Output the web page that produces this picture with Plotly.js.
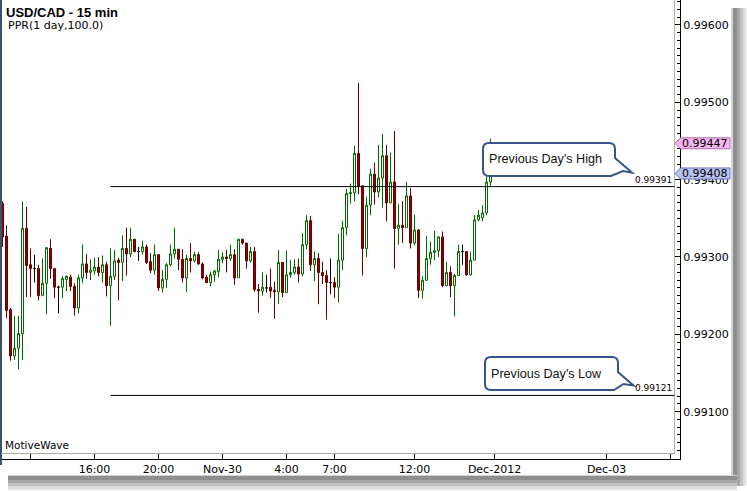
<!DOCTYPE html>
<html><head><meta charset="utf-8">
<script src="https://cdn.plot.ly/plotly-3.0.1.min.js"></script>
<style>html,body{margin:0;padding:0;background:#fff;overflow:hidden}#chart{width:747px;height:491px}</style>
</head><body><div id="chart"></div>
<script>
// ---- data: USD/CAD 15-min bars (index 0 = Nov-29 13:15) ----
const opens = [0.99369,0.99327,0.99232,0.99172,0.99182,0.99201,0.99337,0.99290,0.99285,0.99285,
0.99250,0.99266,0.99311,0.99285,0.99261,0.99261,0.99271,0.99274,0.99262,0.99234,
0.99273,0.99291,0.99280,0.99282,0.99287,0.99280,0.99290,0.99263,0.99275,0.99296,
0.99293,0.99311,0.99304,0.99323,0.99307,0.99307,0.99313,0.99294,0.99283,0.99303,
0.99260,0.99271,0.99290,0.99304,0.99310,0.99297,0.99273,0.99298,0.99295,0.99303,
0.99291,0.99274,0.99267,0.99277,0.99281,0.99297,0.99300,0.99298,0.99303,0.99273,
0.99323,0.99318,0.99295,0.99307,0.99258,0.99256,0.99260,0.99261,0.99257,0.99255,
0.99293,0.99254,0.99277,0.99280,0.99287,0.99278,0.99316,0.99347,0.99290,0.99298,
0.99280,0.99276,0.99267,0.99267,0.99261,0.99296,0.99338,0.99382,0.99383,0.99434,
0.99392,0.99311,0.99367,0.99407,0.99384,0.99402,0.99431,0.99370,0.99397,0.99337,
0.99341,0.99338,0.99379,0.99318,0.99335,0.99257,0.99270,0.99298,0.99306,0.99308,
0.99326,0.99263,0.99280,0.99263,0.99276,0.99307,0.99307,0.99277,0.99296,0.99348,
0.99351,0.99357,0.99397];
const highs = [0.99372,0.99341,0.99234,0.99224,0.99224,0.99372,0.99365,0.99311,0.99303,0.99290,
0.99298,0.99313,0.99323,0.99285,0.99263,0.99275,0.99276,0.99277,0.99266,0.99277,
0.99316,0.99304,0.99297,0.99299,0.99300,0.99302,0.99294,0.99311,0.99309,0.99299,
0.99328,0.99338,0.99338,0.99323,0.99313,0.99321,0.99316,0.99305,0.99316,0.99303,
0.99283,0.99292,0.99316,0.99338,0.99310,0.99310,0.99303,0.99318,0.99307,0.99306,
0.99293,0.99277,0.99281,0.99283,0.99309,0.99306,0.99309,0.99316,0.99310,0.99323,
0.99323,0.99318,0.99313,0.99313,0.99265,0.99280,0.99277,0.99285,0.99268,0.99309,
0.99293,0.99308,0.99296,0.99297,0.99298,0.99331,0.99354,0.99353,0.99307,0.99305,
0.99294,0.99283,0.99298,0.99274,0.99330,0.99347,0.99388,0.99395,0.99444,0.99525,
0.99392,0.99378,0.99414,0.99422,0.99445,0.99459,0.99445,0.99435,0.99463,0.99368,
0.99372,0.99397,0.99389,0.99355,0.99336,0.99275,0.99327,0.99320,0.99334,0.99326,
0.99333,0.99294,0.99288,0.99278,0.99316,0.99316,0.99307,0.99307,0.99354,0.99361,
0.99367,0.99404,0.99453];
const lows = [0.99313,0.99221,0.99166,0.99167,0.99155,0.99167,0.99248,0.99248,0.99267,0.99244,
0.99250,0.99226,0.99272,0.99247,0.99227,0.99247,0.99256,0.99256,0.99224,0.99227,
0.99266,0.99272,0.99270,0.99277,0.99275,0.99267,0.99249,0.99211,0.99270,0.99244,
0.99269,0.99276,0.99300,0.99306,0.99295,0.99303,0.99291,0.99279,0.99277,0.99256,
0.99254,0.99260,0.99288,0.99298,0.99283,0.99267,0.99255,0.99280,0.99293,0.99290,
0.99271,0.99266,0.99262,0.99268,0.99274,0.99292,0.99280,0.99295,0.99264,0.99273,
0.99316,0.99285,0.99293,0.99255,0.99228,0.99250,0.99254,0.99247,0.99220,0.99239,
0.99248,0.99254,0.99273,0.99277,0.99267,0.99275,0.99310,0.99282,0.99269,0.99239,
0.99265,0.99219,0.99252,0.99247,0.99241,0.99283,0.99328,0.99369,0.99372,0.99381,
0.99276,0.99300,0.99354,0.99368,0.99377,0.99364,0.99346,0.99370,0.99285,0.99316,
0.99318,0.99338,0.99311,0.99315,0.99247,0.99246,0.99269,0.99290,0.99296,0.99300,
0.99261,0.99262,0.99248,0.99223,0.99276,0.99290,0.99276,0.99276,0.99296,0.99346,
0.99346,0.99354,0.99391];
const closes = [0.99326,0.99231,0.99172,0.99182,0.99201,0.99337,0.99289,0.99285,0.99285,0.99250,
0.99266,0.99312,0.99285,0.99261,0.99261,0.99272,0.99275,0.99262,0.99234,0.99273,
0.99291,0.99280,0.99283,0.99287,0.99280,0.99290,0.99263,0.99275,0.99295,0.99293,
0.99311,0.99304,0.99323,0.99307,0.99307,0.99313,0.99293,0.99283,0.99303,0.99260,
0.99271,0.99290,0.99304,0.99310,0.99297,0.99273,0.99298,0.99295,0.99303,0.99291,
0.99273,0.99267,0.99277,0.99282,0.99297,0.99300,0.99298,0.99303,0.99273,0.99323,
0.99318,0.99295,0.99307,0.99258,0.99256,0.99261,0.99260,0.99256,0.99255,0.99293,
0.99254,0.99277,0.99280,0.99287,0.99278,0.99316,0.99347,0.99290,0.99298,0.99280,
0.99276,0.99267,0.99267,0.99261,0.99296,0.99338,0.99382,0.99383,0.99434,0.99392,
0.99311,0.99367,0.99407,0.99384,0.99402,0.99431,0.99370,0.99397,0.99337,0.99341,
0.99338,0.99379,0.99318,0.99335,0.99257,0.99270,0.99298,0.99306,0.99308,0.99326,
0.99263,0.99280,0.99263,0.99276,0.99307,0.99307,0.99277,0.99296,0.99348,0.99354,
0.99357,0.99397,0.99408];
const tickIndex  = [7, 23, 39, 55, 71, 83, 103, 123, 151, 167];
const tickLabels = ['', '16:00', '20:00', 'Nov-30', '4:00', '7:00', '12:00', 'Dec-2012', 'Dec-03', ''];
const prevDayHigh = 0.99391;
const prevDayLow  = 0.99121;
const prevLineStart = 27;          // bar index where the PPR lines start
const askPrice = 0.99447;
const bidPrice = 0.99408;

// ---- geometry helpers (plot area pixels) ----
const ML = 1, MR = 67, MT = 0, MB = 32, WIDTH = 747, HEIGHT = 491;
const PW = WIDTH - ML - MR, PH = HEIGHT - MT - MB;
const yTop = 0.996323, yBot = 0.990388;
const xMin = -0.375, xMax = 169.375;
const X = px => (px - ML) / PW;
const Y = py => (MT + PH - py) / PH;
const pyOf = p => MT + (yTop - p) / (yTop - yBot) * PH;
const P = (px, py) => X(px).toFixed(5) + ',' + Y(py).toFixed(5);

// ---- traces ----
const idx = opens.map((_, i) => i);
function pick(f) {
  const s = idx.filter(f);
  return { x: s, open: s.map(i => opens[i]), high: s.map(i => highs[i]),
           low: s.map(i => lows[i]), close: s.map(i => closes[i]) };
}
const GREEN = '#006800', RED_LINE = '#640000', RED_FILL = '#980000';
function candle(d, incLine, incFill, decLine, decFill) {
  return Object.assign({ type: 'candlestick', whiskerwidth: 0, hoverinfo: 'skip', showlegend: false,
    increasing: { line: { color: incLine, width: 1 }, fillcolor: incFill },
    decreasing: { line: { color: decLine, width: 1 }, fillcolor: decFill } }, d);
}
const traces = [
  candle(pick(i => closes[i] > opens[i]), GREEN, '#ffffff', GREEN, '#ffffff'),
  candle(pick(i => closes[i] < opens[i]), RED_LINE, RED_FILL, RED_LINE, RED_FILL),
  candle(pick(i => closes[i] === opens[i]), '#000000', '#000000', '#000000', '#000000')
];

// ---- decorations ----
function callout(l, t, r, b, rad, ty, tip, back, bx) {
  return 'M' + P(l + rad, t) + ' L' + P(r - rad, t) + ' Q' + P(r, t) + ' ' + P(r, t + rad) +
    ' L' + P(r, ty) + ' L' + P(tip[0], tip[1]) + ' L' + P(back[0], back[1]) + ' L' + P(bx, b) +
    ' L' + P(l + rad, b) + ' Q' + P(l, b) + ' ' + P(l, b - rad) + ' L' + P(l, t + rad) +
    ' Q' + P(l, t) + ' ' + P(l + rad, t) + ' Z';
}
function tag(py) {
  return 'M' + P(675, py) + ' L' + P(680.5, py - 5.5) + ' L' + P(730, py - 5.5) + ' L' + P(730, py + 5.5) +
    ' L' + P(680.5, py + 5.5) + ' Z';
}
const shapes = [];
// shadow (right and bottom)
[[731, 733, '#d4d4d4'], [733, 737, '#8e8e8e'], [737, 740, '#a6a6a6'], [740, 743, '#c2c2c2'], [743, 745, '#dadada'], [745, 748, '#eeeeee']]
  .forEach(b => shapes.push({ type: 'rect', xref: 'paper', yref: 'paper', x0: X(b[0]), x1: X(b[1]), y0: Y(8), y1: Y(486), fillcolor: b[2], line: { width: 0 }, layer: 'above' }));
[[475, 476, '#d0d0d0'], [476, 480, '#8e8e8e'], [480, 483, '#a6a6a6'], [483, 486, '#c2c2c2'], [486, 489, '#dadada'], [489, 492, '#eeeeee']]
  .forEach(b => shapes.push({ type: 'rect', xref: 'paper', yref: 'paper', x0: X(8), x1: X(737), y0: Y(b[0]), y1: Y(b[1]), fillcolor: b[2], line: { width: 0 }, layer: 'above' }));
// left window border
shapes.push({ type: 'rect', xref: 'paper', yref: 'paper', x0: X(0), x1: X(2), y0: Y(0), y1: Y(465), fillcolor: '#3c506c', line: { width: 0 }, layer: 'above' });
// inner plot frame (light grey)
shapes.push({ type: 'line', xref: 'paper', yref: 'paper', x0: X(674.5), x1: X(674.5), y0: Y(0), y1: Y(453.5), line: { color: '#a9ae9e', width: 1 }, layer: 'above' });
shapes.push({ type: 'line', xref: 'paper', yref: 'paper', x0: X(1), x1: X(674.5), y0: Y(453.5), y1: Y(453.5), line: { color: '#a9ae9e', width: 1 }, layer: 'above' });
// previous day high / low lines
[prevDayHigh, prevDayLow].forEach(v => shapes.push({ type: 'line', xref: 'x', yref: 'y', x0: prevLineStart, x1: 168, y0: v, y1: v, line: { color: '#000000', width: 1 }, layer: 'above' }));
// callouts
const hiY = pyOf(prevDayHigh), loY = pyOf(prevDayLow);
shapes.push({ type: 'path', xref: 'paper', yref: 'paper', path: callout(483, 143, 615, 176, 6, 158, [632, hiY - 14], [623, hiY - 15.5], 611), fillcolor: '#ffffff', line: { color: '#34558a', width: 2 }, layer: 'above' });
shapes.push({ type: 'path', xref: 'paper', yref: 'paper', path: callout(485, 357, 618, 390, 6, 372, [633.5, loY - 10], [623.5, loY - 11.5], 614), fillcolor: '#ffffff', line: { color: '#34558a', width: 2 }, layer: 'above' });
// price tags
shapes.push({ type: 'path', xref: 'paper', yref: 'paper', path: tag(pyOf(askPrice)), fillcolor: '#f4b6ee', line: { color: '#b868b0', width: 1 }, layer: 'above' });
shapes.push({ type: 'path', xref: 'paper', yref: 'paper', path: tag(pyOf(bidPrice)), fillcolor: '#b9c2f2', line: { color: '#6a78b8', width: 1 }, layer: 'above' });

const F = 'DejaVu Sans';
const ann = (px, py, text, size, extra) => Object.assign({ xref: 'paper', yref: 'paper', x: X(px), y: Y(py), text: text,
  showarrow: false, xanchor: 'left', yanchor: 'middle', font: { family: F, size: size, color: '#000' } }, extra || {});
const annotations = [
  ann(4, 12, '<b>USD/CAD - 15 min</b>', 13, { font: { family: 'Liberation Sans', size: 13, color: '#000' } }),
  ann(6, 26, 'PPR(1 day,100.0)', 11),
  ann(3, 444.5, 'MotiveWave', 10.5),
  ann(673.5, hiY - 6.5, prevDayHigh.toFixed(5), 9, { xanchor: 'right' }),
  ann(673.5, loY - 7.5, prevDayLow.toFixed(5), 9, { xanchor: 'right' }),
  ann(487, 159, "Previous Day's High", 12.6, { font: { family: 'Liberation Sans', size: 12.6, color: '#111' } }),
  ann(489, 373.5, "Previous Day's Low", 12.6, { font: { family: 'Liberation Sans', size: 12.6, color: '#111' } }),
  ann(705, pyOf(askPrice), askPrice.toFixed(5), 11, { xanchor: 'center' }),
  ann(705, pyOf(bidPrice), bidPrice.toFixed(5), 11, { xanchor: 'center' })
];

const layout = {
  width: WIDTH, height: HEIGHT,
  margin: { l: ML, r: MR, t: MT, b: MB, pad: 0 },
  paper_bgcolor: '#ffffff', plot_bgcolor: '#ffffff',
  showlegend: false, dragmode: false,
  boxgap: 0.5, boxgroupgap: 0,
  xaxis: { range: [xMin, xMax], tickmode: 'array', tickvals: tickIndex, ticktext: tickLabels,
    ticks: 'inside', ticklen: 6, tickcolor: '#000', showline: true, linecolor: '#000', linewidth: 1,
    showgrid: false, zeroline: false, rangeslider: { visible: false }, fixedrange: true,
    tickfont: { family: F, size: 11, color: '#000' } },
  yaxis: { side: 'right', range: [yBot, yTop], tick0: 0.991, dtick: 0.001, tickformat: '.5f',
    ticks: 'inside', ticklen: 6, tickcolor: '#000', showline: true, linecolor: '#000', linewidth: 1,
    showgrid: false, zeroline: false, fixedrange: true,
    minor: { tick0: 0.991, dtick: 0.0001, ticks: 'inside', ticklen: 3, tickcolor: '#000', showgrid: false },
    tickfont: { family: F, size: 11, color: '#000' } },
  shapes: shapes,
  annotations: annotations
};
Plotly.newPlot('chart', traces, layout, { staticPlot: true, displayModeBar: false });
</script></body></html>
